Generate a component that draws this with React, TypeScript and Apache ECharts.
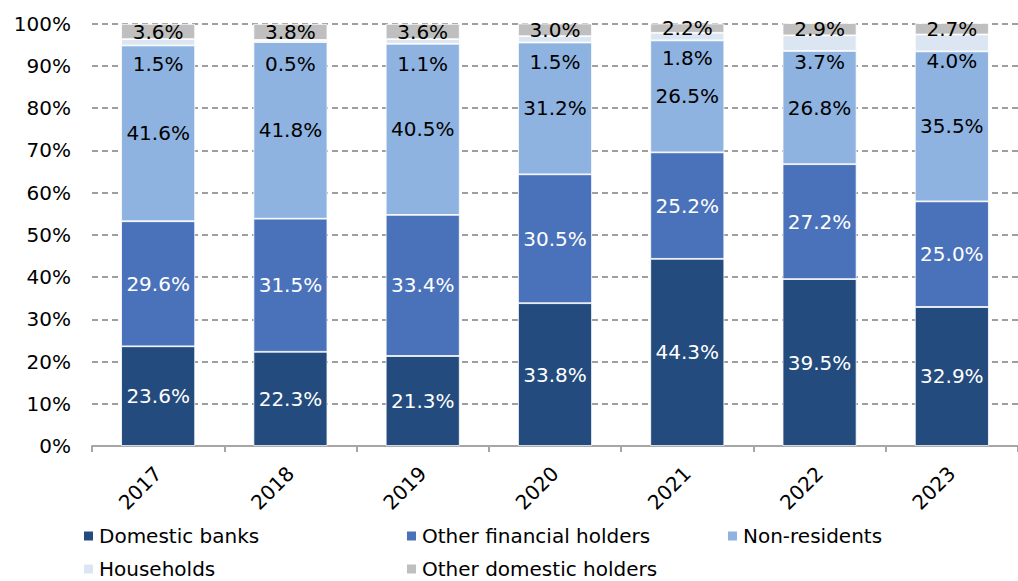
import React, { useEffect, useRef } from "react";
import * as echarts from "echarts";

const years = ["2017", "2018", "2019", "2020", "2021", "2022", "2023"];
const domesticBanks = [23.6, 22.3, 21.3, 33.8, 44.3, 39.5, 32.9];
const otherFinancial = [29.6, 31.5, 33.4, 30.5, 25.2, 27.2, 25.0];
const nonResidents = [41.6, 41.8, 40.5, 31.2, 26.5, 26.8, 35.5];
const households = [1.5, 0.5, 1.1, 1.5, 1.8, 3.7, 4.0];
const otherDomestic = [3.6, 3.8, 3.6, 3.0, 2.2, 2.9, 2.7];
const yTicks = [0, 10, 20, 30, 40, 50, 60, 70, 80, 90, 100];

// label placement (style only): distance of each households label below its segment
const householdsLabelDistance = [8.8, 12.2, 10.5, 9.2, 7.9, 0.7, -0.7];

const FONT = "DejaVu Sans";
const FS = 20;

export default function App() {
  const ref = useRef<HTMLDivElement>(null);
  useEffect(() => {
    const chart = echarts.init(ref.current!, null, { renderer: "svg" });
    const fmt = (p: any) => Number(p.value).toFixed(1) + "%";
    const mk = (name: string, data: any[], color: string, labelColor: string, pos: any = "inside", dist = 5) => ({
      name,
      type: "bar",
      stack: "total",
      data,
      barWidth: 74,
      itemStyle: { color, borderColor: "#ffffff", borderWidth: 0.8 },
      label: {
        show: true,
        position: pos,
        distance: dist,
        formatter: fmt,
        color: labelColor,
        fontFamily: FONT,
        fontSize: FS,
      },
    });
    const legendItem = (name: string, left: number, top: number) => ({
      show: true,
      data: [name],
      left,
      top,
      padding: 0,
      itemWidth: 11,
      itemHeight: 11,
      itemGap: 0,
      icon: "rect",
      textStyle: { fontFamily: FONT, fontSize: FS, color: "#000" },
    });
    const hhData = households.map((v, i) => ({
      value: v,
      label: { distance: householdsLabelDistance[i] },
    }));
    chart.setOption({
      animation: false,
      backgroundColor: "#ffffff",
      grid: { left: 92, right: -12, top: 23.5, bottom: 135, containLabel: false },
      legend: [
        legendItem("Domestic banks", 82, 526),
        legendItem("Other financial holders", 405, 526),
        legendItem("Non-residents", 726, 526),
        legendItem("Households", 82, 559),
        legendItem("Other domestic holders", 405, 559),
      ],
      xAxis: {
        type: "category",
        data: years,
        axisLine: { lineStyle: { color: "#A6A6A6", width: 2 } },
        axisTick: { show: true, length: 6, lineStyle: { color: "#A6A6A6", width: 2 } },
        axisLabel: { rotate: 45, fontFamily: FONT, fontSize: FS, color: "#000", margin: 24 },
      },
      yAxis: {
        type: "value",
        min: yTicks[0],
        max: yTicks[yTicks.length - 1],
        interval: 10,
        axisLabel: { formatter: "{value}%", fontFamily: FONT, fontSize: FS, color: "#000", margin: 21 },
        axisLine: { show: false },
        axisTick: { show: false },
        splitLine: { lineStyle: { color: "#808080", type: [6, 4], width: 1.5 } },
      },
      series: [
        mk("Domestic banks", domesticBanks, "#234B7D", "#ffffff"),
        mk("Other financial holders", otherFinancial, "#4A72BA", "#ffffff"),
        mk("Non-residents", nonResidents, "#8EB3E0", "#000000"),
        mk("Households", hhData, "#DCE6F2", "#000000", "bottom", 9),
        mk("Other domestic holders", otherDomestic, "#BFBFBF", "#000000"),
      ],
    });
    return () => chart.dispose();
  }, []);
  return (
    <div
      ref={ref}
      style={{ position: "fixed", left: 0, top: 0, width: 1018, height: 581 }}
    />
  );
}
